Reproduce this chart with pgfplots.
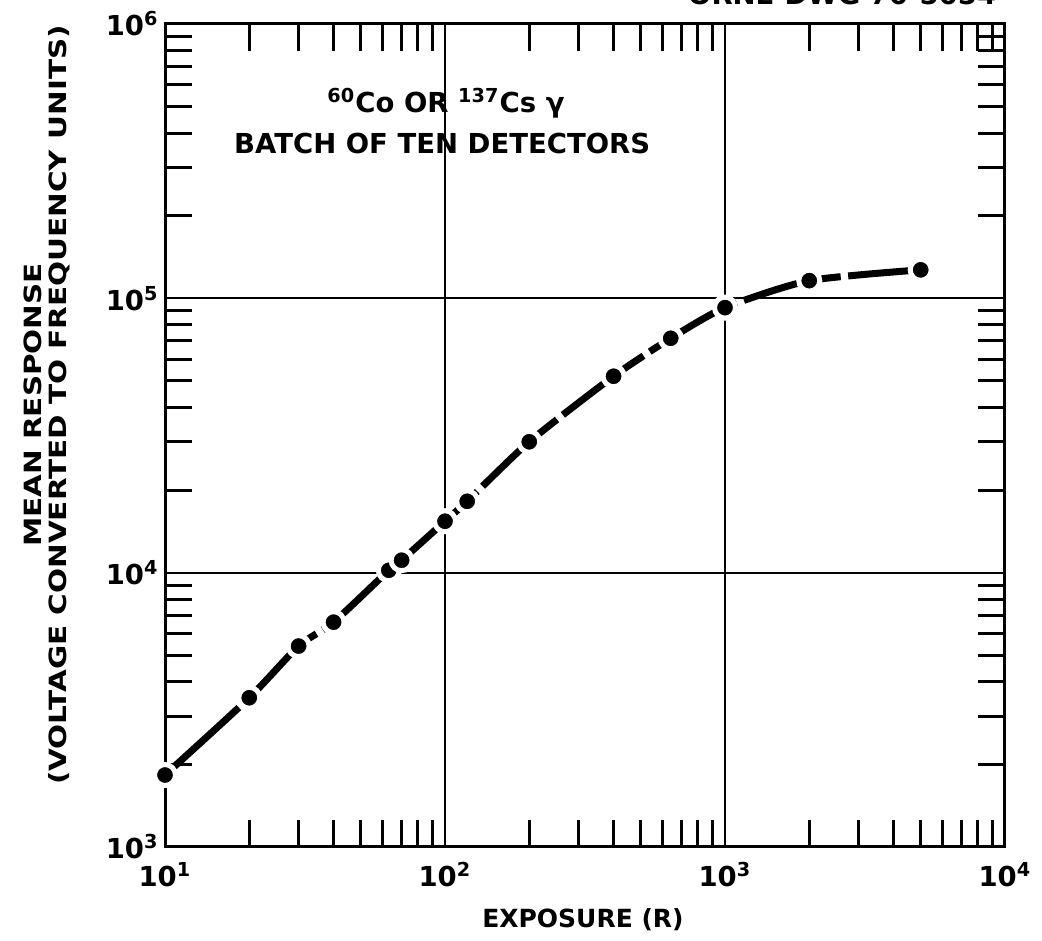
\documentclass[border=0pt]{standalone}
\usepackage{pgfplots}
\pgfplotsset{compat=1.18}
\usepackage{fontspec}
\setmainfont{DejaVu Sans}
\newfontfamily\widefont{DejaVu Sans}[FakeStretch=1.24]

\begin{document}
\begin{tikzpicture}
\begin{axis}[
  at={(0,0)}, anchor=south west,
  scale only axis,
  width=336pt, height=329.2pt,
  xmode=log, ymode=log,
  xmin=10, xmax=10000,
  ymin=1000, ymax=1000000,
  axis line style={line width=1.2pt},
  xtick={10,100,1000,10000},
  xticklabels={10\textsuperscript{1},10\textsuperscript{2},10\textsuperscript{3},10\textsuperscript{4}},
  ytick={1000,10000,100000,1000000},
  yticklabels={10\textsuperscript{3},10\textsuperscript{4},10\textsuperscript{5},10\textsuperscript{6}},
  minor xtick={20,30,40,50,60,70,80,90,200,300,400,500,600,700,800,900,2000,3000,4000,5000,6000,7000,8000,9000},
  minor ytick={2000,3000,4000,5000,6000,7000,8000,9000,20000,30000,40000,50000,60000,70000,80000,90000,200000,300000,400000,500000,600000,700000,800000,900000},
  major tick length=0pt,
  minor tick length=10.8pt,
  tick align=inside,
  minor tick style={line width=1.2pt, black},
  xmajorgrids, ymajorgrids,
  major grid style={line width=0.8pt, black},
  ticklabel style={font=\bfseries\fontsize{11}{11}\selectfont},
  xticklabel style={yshift=-2.5pt},
  yticklabel style={xshift=1pt},
  clip=false,
]
\addplot[black, line width=2.8pt, smooth, tension=0.4,
  dash pattern=on 40pt off 3pt,
  mark=*, mark size=4.2pt,
  mark options={solid, fill=black, draw=white, line width=2pt}]
coordinates {
  (10,1830) (20,3500) (30,5400) (40,6600) (63,10200) (70,11100)
  (100,15400) (120,18200) (200,30000) (400,52000) (640,71500)
  (1000,92500) (2000,116000) (5000,127000)
};

\node[font=\bfseries\fontsize{11}{13}\selectfont] at (rel axis cs:0.3345,0.904)
  {\textsuperscript{60}Co OR \textsuperscript{137}Cs γ};
\node[font=\bfseries\fontsize{11}{13}\selectfont] at (rel axis cs:0.33,0.855)
  {BATCH OF TEN DETECTORS};
\node[font=\bfseries\fontsize{10}{12}\selectfont] at (rel axis cs:0.4976,-0.0887)
  {EXPOSURE (R)};
\node[rotate=90, align=center, font=\widefont\bfseries\fontsize{9.5}{9.8}\selectfont]
  at (rel axis cs:-0.1405,0.537)
  {MEAN RESPONSE\\(VOLTAGE CONVERTED TO FREQUENCY UNITS)};
\node[anchor=base east, yshift=7.6pt, font=\bfseries\fontsize{11}{13}\selectfont]
  at (rel axis cs:1,1) {ORNL-DWG 70-5054};
\end{axis}
\pgfresetboundingbox
\useasboundingbox (-66pt,-37.6pt) rectangle (350.8pt,338.8pt);
\end{tikzpicture}
\end{document}
